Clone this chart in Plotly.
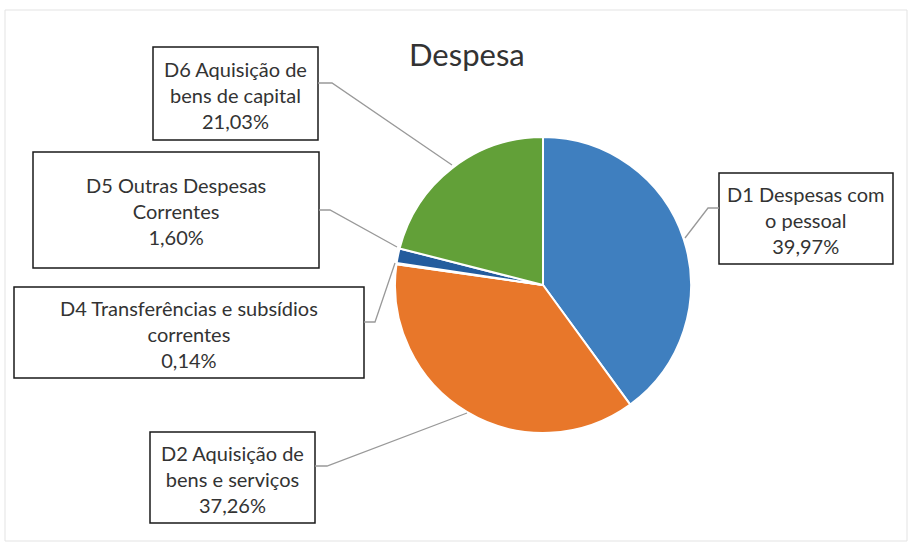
import plotly.graph_objects as go

W, H = 912, 547

categories = ["D1 Despesas com o pessoal", "D2 Aquisição de bens e serviços",
              "D4 Transferências e subsídios correntes", "D5 Outras Despesas Correntes",
              "D6 Aquisição de bens de capital"]
values = [39.97, 37.26, 0.14, 1.60, 21.03]
label_lines = [
    ["D1 Despesas com", "o pessoal"],
    ["D2 Aquisição de", "bens e serviços"],
    ["D4 Transferências e subsídios", "correntes"],
    ["D5 Outras Despesas", "Correntes"],
    ["D6 Aquisição de", "bens de capital"],
]
colors = ["#3F7FBF", "#E8772A", "#FFC000", "#235C9E", "#62A038"]

# layout: label boxes (x0, y0, x1, y1) in pixels and leader polylines
boxes = [
    (719, 173, 893, 264),
    (150, 432, 315, 523),
    (14, 287, 364, 378),
    (33, 152, 319, 268),
    (153, 47, 318, 140),
]
leaders = [
    [(719, 208), (708, 208), (685, 238)],
    [(315, 466), (327, 466), (467, 413)],
    [(364, 322), (375, 322), (395, 263)],
    [(319, 210), (330, 210), (397, 247)],
    [(318, 83), (332, 83), (452, 165)],
]

def fmt(v):
    return f"{v:.2f}".replace(".", ",") + "%"

cx, cy, r = 543, 285, 148

fig = go.Figure()
fig.add_trace(go.Pie(
    labels=categories, values=values, sort=False, direction="clockwise",
    rotation=0, marker=dict(colors=colors, line=dict(color="white", width=2)),
    textinfo="none", hoverinfo="label+percent", showlegend=False,
    domain=dict(x=[(cx - r) / W, (cx + r) / W], y=[1 - (cy + r) / H, 1 - (cy - r) / H]),
))

shapes = []
annotations = []
# chart border
shapes.append(dict(type="rect", xref="x", yref="y", x0=5, y0=10, x1=907, y1=541,
                   line=dict(color="#E3E3E3", width=1)))
for i, v in enumerate(values):
    x0, y0, x1, y1 = boxes[i]
    shapes.append(dict(type="rect", xref="x", yref="y", x0=x0, y0=y0, x1=x1, y1=y1,
                       line=dict(color="#1a1a1a", width=1.5), fillcolor="white", layer="above"))
    pts = leaders[i]
    path = "M " + " L ".join(f"{px},{py}" for px, py in pts)
    shapes.append(dict(type="path", xref="x", yref="y", path=path,
                       line=dict(color="#999999", width=1.3)))
    text = "<br>".join(label_lines[i] + [fmt(v)])
    annotations.append(dict(x=(x0 + x1) / 2, y=(y0 + y1) / 2 + 1, xref="x", yref="y",
                            text=text, showarrow=False, xanchor="center", yanchor="middle",
                            font=dict(family="Lato", size=20, color="#333333")))

annotations.append(dict(x=467, y=54, xref="x", yref="y", text="Despesa", showarrow=False,
                        xanchor="center", yanchor="middle",
                        font=dict(family="Lato", size=31, color="#333333")))

fig.update_layout(
    width=W, height=H, margin=dict(l=0, r=0, t=0, b=0),
    paper_bgcolor="white", plot_bgcolor="rgba(0,0,0,0)",
    xaxis=dict(range=[0, W], visible=False, fixedrange=True),
    yaxis=dict(range=[H, 0], visible=False, fixedrange=True),
    shapes=shapes, annotations=annotations,
)
fig.write_html("out.html", config={"displayModeBar": False},
               post_script="document.body.style.margin='0px';document.body.style.overflow='hidden';")
